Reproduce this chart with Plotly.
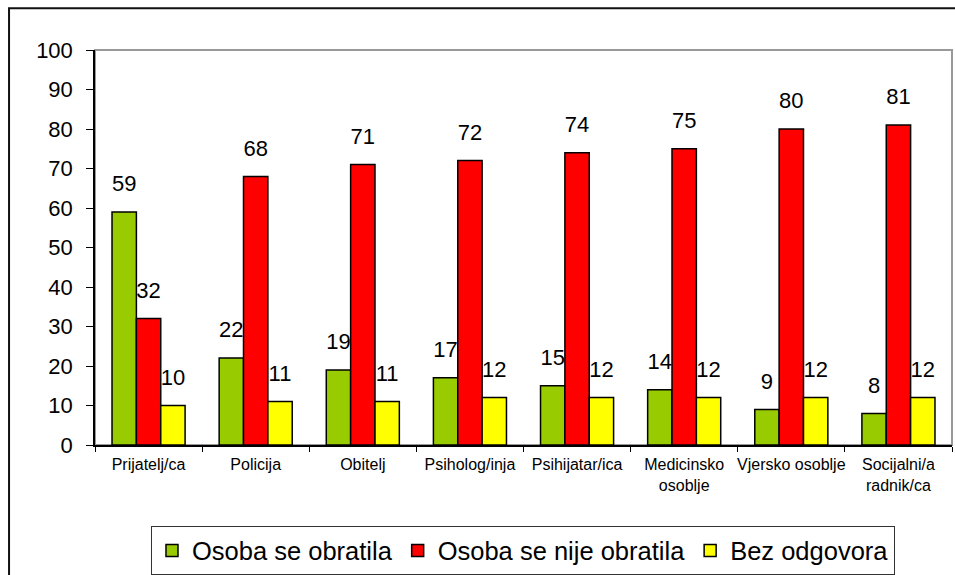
import plotly.graph_objects as go

categories = ["Prijatelj/ca", "Policija", "Obitelj", "Psiholog/inja", "Psihijatar/ica",
              "Medicinsko<br>osoblje", "Vjersko osoblje", "Socijalni/a<br>radnik/ca"]
obratila = [59, 22, 19, 17, 15, 14, 9, 8]
nije_obratila = [32, 68, 71, 72, 74, 75, 80, 81]
bez_odgovora = [10, 11, 11, 12, 12, 12, 12, 12]
y_ticks = [0, 10, 20, 30, 40, 50, 60, 70, 80, 90, 100]

series = [
    ("Osoba se obratila", obratila, "#99CC00"),
    ("Osoba se nije obratila", nije_obratila, "#FF0000"),
    ("Bez odgovora", bez_odgovora, "#FFFF00"),
]

FONT = "Liberation Sans"
GAP = 0.318

fig = go.Figure()
for i, (name, vals, col) in enumerate(series):
    fig.add_trace(go.Bar(
        x=categories, y=vals, name=name, offsetgroup=str(i), alignmentgroup="a",
        marker=dict(color=col, line=dict(color="black", width=1.5)),
        hoverinfo="x+y+name",
    ))
# value labels, grouped like the bars
for i, (name, vals, col) in enumerate(series):
    fig.add_trace(go.Scatter(
        x=categories, y=vals, mode="markers+text", offsetgroup=str(i), alignmentgroup="a",
        text=[str(v) for v in vals], textposition="top center",
        textfont=dict(size=22, color="black", family=FONT),
        marker=dict(size=23, opacity=0), showlegend=False, hoverinfo="skip",
        cliponaxis=False,
    ))

fig.update_layout(
    width=955, height=575,
    margin=dict(l=95, r=3, t=50, b=130, autoexpand=False),
    paper_bgcolor="white", plot_bgcolor="white",
    font=dict(family=FONT, color="black"),
    barmode="group", bargap=GAP, bargroupgap=0,
    scattermode="group", scattergap=GAP,
    showlegend=True,
    legend=dict(orientation="h", x=0.4994, y=-0.268, xanchor="center", yanchor="middle",
                bordercolor="#333333", borderwidth=1, font=dict(size=25.5),
                itemwidth=30, tracegroupgap=0),
)
fig.update_xaxes(showline=True, linecolor="black", linewidth=1.5,
                 ticks="outside", tickson="boundaries", ticklen=5, tickcolor="black",
                 tickfont=dict(size=16), tickangle=0, showgrid=False,
                 ticklabelstandoff=4)
fig.update_yaxes(range=[0, 100], tickvals=y_ticks, showline=True, linecolor="black",
                 linewidth=1.5, ticks="outside", ticklen=7, tickcolor="black",
                 tickfont=dict(size=22), showgrid=False, zeroline=False,
                 ticklabelstandoff=9)

# plot-area frame (gray) and outer chart frame (black)
fig.add_shape(type="rect", xref="paper", yref="paper", x0=0, x1=1, y0=0, y1=1,
              line=dict(color="#999999", width=2), layer="below")
fig.add_shape(type="rect", xref="paper", yref="paper", x0=-0.1003, x1=1.02,
              y0=-0.36, y1=1.106, line=dict(color="#111111", width=2), layer="below")

fig.write_html("out.html", config={"displayModeBar": False},
               post_script="document.body.style.margin='0px';")
